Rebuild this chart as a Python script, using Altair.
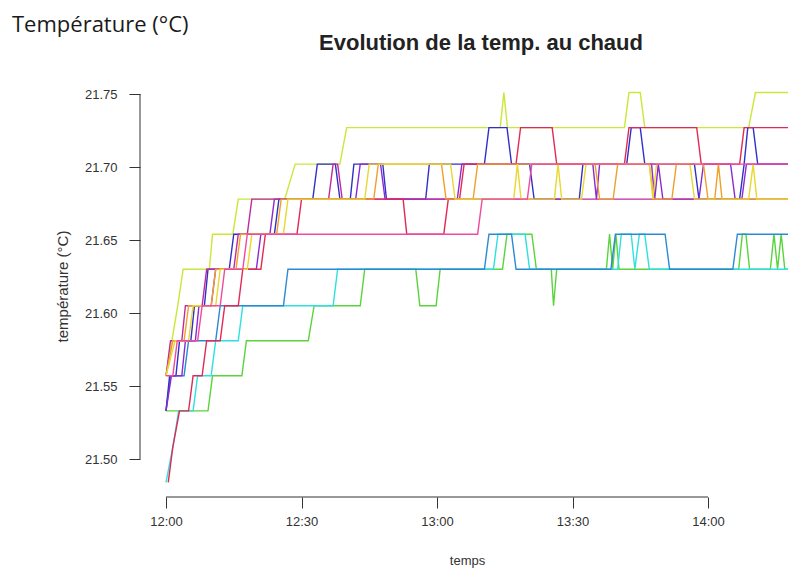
import json
import altair as alt
import pandas as pd

# Quantized sensor readings (°C)
LEVELS = [21.484, 21.508, 21.533, 21.557, 21.581, 21.605,
          21.630, 21.654, 21.678, 21.702, 21.727, 21.751]

Y_TICKS = [21.50, 21.55, 21.60, 21.65, 21.70, 21.75]
X_TICK_MIN = [0, 30, 60, 90, 120]
X_TICK_LABELS = ["12:00", "12:30", "13:00", "13:30", "14:00"]

SERIES_NAMES = ["vert-jaune", "vert", "cyan", "bleu clair", "bleu", "violet",
                "magenta", "rouge", "orange", "jaune", "rose"]
SERIES_COLORS = ["#c8e83a", "#5ad43c", "#2ee0e0", "#2a8ad4", "#3030c8", "#8a2bd0",
                 "#c02aa0", "#e02a55", "#f0a02a", "#e8d830", "#f04aa0"]

# minutes after 12:00 and level index (into LEVELS) for each series
S1_T = [0, 1.3, 2.6, 3.8, 9.6, 10.3, 14.8, 16, 26.3, 28.6, 38.5, 40, 74, 74.8, 75.6,
        101.5, 102.5, 105, 106, 129, 130.5, 140]
S1_L = [3, 4, 5, 6, 6, 7, 7, 8, 8, 9, 9, 10, 10, 11, 10, 10, 11, 11, 10, 10, 11, 11]

S2_T = [0, 9.3, 10.3, 16.8, 17.8, 31.5, 32.8, 43, 44, 55.3, 56.2, 59.8, 60.7, 74.5, 75.5,
        81, 82, 85.3, 85.8, 86.5, 97.5, 98.2, 98.9, 99.6, 100.3, 126.8, 127.6, 128.4,
        129.2, 133.8, 134.6, 135.4, 136.2, 137, 140]
S2_L = [2, 2, 3, 3, 4, 4, 5, 5, 6, 6, 5, 5, 6, 6, 7, 7, 6, 6, 5, 6, 6, 7, 6, 7, 6, 6, 7,
        7, 6, 6, 7, 6, 7, 6, 6]

S3_T = [0, 1.5, 2.8, 6, 7, 10, 11, 16, 17, 37, 38, 72.5, 73.5, 79.5, 80.5, 100, 100.8,
        103, 103.8, 104.8, 106, 107, 140]
S3_L = [0, 1, 2, 2, 3, 3, 4, 4, 5, 5, 6, 6, 7, 7, 6, 6, 7, 7, 6, 7, 7, 6, 6]

S4_T = [0, 1, 4, 5, 11, 12, 26, 27, 70.5, 71.5, 76.5, 77.5, 98.5, 99.5, 110.5, 111.5,
        125.5, 126.5, 140]
S4_L = [2, 3, 3, 4, 4, 5, 5, 6, 6, 7, 7, 6, 6, 7, 7, 6, 6, 7, 7]

S5_T = [0, 0.8, 2.2, 3, 5.5, 6.3, 8.5, 9.3, 14, 15, 24, 25, 32.5, 33.5, 37.5, 38.5, 40.8,
        41.6, 48, 48.8, 57.5, 58.3, 70.5, 71.5, 75.5, 76.5, 80.5, 81.5, 91.5, 92.3, 102,
        103, 105, 106, 117, 118, 127, 128, 128.8, 130, 131, 140]
S5_L = [2, 3, 3, 4, 4, 5, 5, 6, 6, 7, 7, 8, 8, 9, 9, 8, 8, 9, 9, 8, 8, 9, 9, 10, 10, 9,
        9, 8, 8, 9, 9, 10, 10, 9, 9, 8, 8, 9, 10, 10, 9, 9]

S6_T = [0, 1.2, 3.5, 4.3, 6.5, 7.3, 10, 11, 20, 21, 23, 24, 42, 43, 47.5, 48.5, 64.5,
        65.5, 94.5, 95.3, 96, 107.5, 108.2, 109, 110, 118, 119, 125, 126, 127.5, 128.5, 140]
S6_L = [2, 3, 3, 4, 4, 5, 5, 6, 6, 7, 7, 8, 8, 9, 9, 8, 8, 9, 9, 8, 9, 9, 8, 9, 8, 8, 9,
        9, 8, 8, 9, 9]

S7_T = [0, 1, 3.5, 4.3, 8, 9, 15, 16, 18, 19, 36, 37, 38, 39, 140]
S7_L = [3, 4, 4, 5, 5, 6, 6, 7, 7, 8, 8, 9, 9, 8, 8]

S8_T = [0.5, 1.5, 3, 5, 6, 8, 9, 12, 13, 16, 17, 21, 22, 29, 30, 52.5, 53.3, 61.5, 62.5,
        65, 66, 77.5, 78.5, 85.5, 86.5, 101.5, 102.5, 117.5, 118.5, 127, 128, 140]
S8_L = [0, 1, 2, 2, 3, 3, 4, 4, 5, 5, 6, 6, 7, 7, 8, 8, 7, 7, 8, 8, 9, 9, 10, 10, 9, 9,
        10, 10, 9, 9, 10, 10]

S9_T = [0, 1.5, 4, 5, 10, 11, 15.5, 16.5, 24.5, 25.5, 46, 47, 61, 62, 68, 69, 95, 96, 99,
        100, 107, 108, 112, 113, 119, 120, 121.5, 122.3, 123.1, 140]
S9_L = [3, 4, 4, 5, 5, 6, 6, 7, 7, 8, 8, 9, 9, 8, 8, 9, 9, 8, 8, 9, 9, 8, 8, 9, 9, 8, 8,
        9, 8, 8]

S10_T = [0, 2, 5, 6, 11, 12, 18, 19, 26, 27, 44, 45, 63, 64, 77, 77.8, 78.6, 86, 86.8,
         87.6, 92, 93, 107, 107.8, 108.6, 116, 117, 129, 130, 130.8, 140]
S10_L = [3, 4, 4, 5, 5, 6, 6, 7, 7, 8, 8, 9, 9, 8, 8, 9, 8, 8, 9, 8, 8, 9, 9, 8, 9, 9,
         8, 8, 9, 8, 8]

S11_T = [0, 1.5, 2.5, 7, 8, 12, 13, 17, 18, 69, 70, 80, 81, 140]
S11_L = [3, 3, 4, 4, 5, 5, 6, 6, 7, 7, 8, 8, 9, 9]

SERIES = [(S1_T, S1_L), (S2_T, S2_L), (S3_T, S3_L), (S4_T, S4_L), (S5_T, S5_L),
          (S6_T, S6_L), (S7_T, S7_L), (S8_T, S8_L), (S9_T, S9_L), (S10_T, S10_L),
          (S11_T, S11_L)]

TITLE = "Evolution de la temp. au chaud"
CORNER = "Température (°C)"

rows = []
for name, (ts, ls) in zip(SERIES_NAMES, SERIES):
    for t, l in zip(ts, ls):
        rows.append({"serie": name, "minute": t, "temp": LEVELS[l]})
df = pd.DataFrame(rows)

FONT = "Liberation Sans"
label_expr = json.dumps(X_TICK_LABELS) + "[round(datum.value / 30)]"

xscale = alt.Scale(domain=[-5.756, 137.71], nice=False, zero=False)
yscale = alt.Scale(domain=[21.474, 21.7733], nice=False, zero=False)

x_axis = alt.Axis(values=X_TICK_MIN, labelExpr=label_expr, domain=False,
                  grid=False, tickSize=11, tickColor="#333", tickWidth=1,
                  labelFont=FONT, labelFontSize=13, labelColor="#333",
                  labelPadding=7, title="temps", titleFont=FONT,
                  titleFontSize=13, titleFontWeight="normal", titleColor="#333",
                  titleX=327, titleY=63, titleBaseline="middle")
y_axis = alt.Axis(values=Y_TICKS, format=".2f", domain=False, grid=False,
                  tickSize=11, tickColor="#333", tickWidth=1,
                  labelFont=FONT, labelFontSize=13, labelColor="#333",
                  labelPadding=12, title="température (°C)", titleFont=FONT,
                  titleFontSize=15, titleFontWeight="normal", titleColor="#333",
                  titleX=-78, titleY=226, titleAngle=270,
                  titleAlign="center", titleBaseline="middle")

lines = alt.Chart(df).mark_line(clip=True, strokeWidth=1.4).encode(
    x=alt.X("minute:Q", scale=xscale, axis=x_axis),
    y=alt.Y("temp:Q", scale=yscale, axis=y_axis),
    color=alt.Color("serie:N", scale=alt.Scale(domain=SERIES_NAMES, range=SERIES_COLORS),
                    legend=None),
    detail="serie:N",
)

yline = alt.Chart(pd.DataFrame({"minute": [0], "temp": [min(Y_TICKS)],
                                "hi": [max(Y_TICKS)]})).mark_rule(
    color="#333", strokeWidth=1).encode(
    x=alt.value(0),
    y=alt.Y("temp:Q", scale=yscale, axis=y_axis),
    y2="hi:Q",
)

xline = alt.Chart(pd.DataFrame({"minute": [min(X_TICK_MIN)],
                                "hi": [max(X_TICK_MIN)]})).mark_rule(
    color="#333", strokeWidth=1).encode(
    y=alt.value(437),
    x=alt.X("minute:Q", scale=xscale, axis=x_axis),
    x2="hi:Q",
)

corner = alt.Chart(pd.DataFrame({"t": [CORNER]})).mark_text(
    align="left", baseline="middle", font="Open Sans", fontSize=22, color="#1a1a1a").encode(
    x=alt.value(-128), y=alt.value(-35), text="t:N")

title = alt.Chart(pd.DataFrame({"t": [TITLE]})).mark_text(
    align="center", baseline="middle", font=FONT, fontSize=22, fontWeight="bold",
    color="#222").encode(
    x=alt.value(341), y=alt.value(-17), text="t:N")

chart = alt.layer(lines, yline, xline, corner, title).properties(
    width=648, height=437,
    autosize=alt.AutoSizeParams(type="none"),
    padding={"left": 132, "top": 52, "right": 0, "bottom": 72},
).configure_view(stroke=None)

chart.save("out.html", embed_options={"renderer": "svg", "actions": False})
